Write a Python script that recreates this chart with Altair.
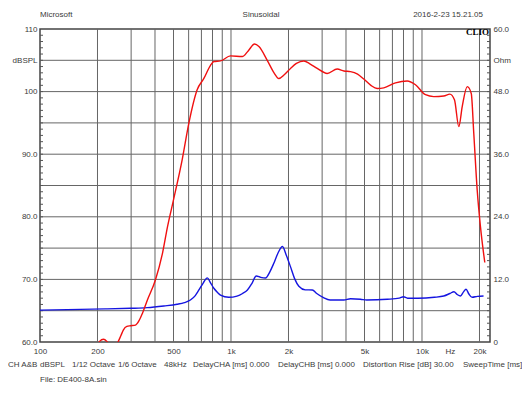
import altair as alt
import pandas as pd

# ---------------- data ----------------
red_freq = [195, 205, 215, 224, 232, 245, 256, 265, 273, 285, 298, 316, 330, 344, 365,
            402, 438, 465, 500, 555, 601, 665, 721, 781, 813, 881, 994, 1145, 1230,
            1328, 1400, 1548, 1680, 1780, 1900, 2049, 2200, 2405, 2600, 2828, 3190,
            3597, 3900, 4224, 4600, 4958, 5400, 5826, 6310, 7265, 8365, 9245, 10430,
            11530, 13000, 13990, 14790, 15590, 16240, 17250, 18110, 18670, 19450,
            20240, 21320]
red_db = [58.5, 60.1, 60.45, 60.1, 59.5, 59.3, 60.0, 61.0, 61.9, 62.5, 62.6, 62.7, 63.4,
          64.6, 66.7, 69.9, 74.2, 78.4, 82.7, 89.1, 94.9, 100.3, 102.1, 104.2, 104.8,
          104.9, 105.7, 105.6, 106.5, 107.6, 107.2, 105.0, 103.0, 102.1, 102.7, 103.7,
          104.5, 104.9, 104.4, 103.7, 102.9, 103.6, 103.3, 103.2, 102.8, 102.0, 101.0,
          100.5, 100.6, 101.4, 101.7, 101.1, 99.5, 99.2, 99.3, 99.6, 98.7, 94.4, 97.6,
          100.8, 99.7, 93.3, 84.3, 78.4, 72.7]

blue_freq = [100, 163, 220, 298, 364, 445, 522, 570, 613, 650, 679, 715, 751, 780, 813,
             850, 881, 973, 1075, 1150, 1219, 1290, 1355, 1430, 1516, 1600, 1676, 1770,
             1859, 1950, 2050, 2150, 2266, 2450, 2666, 2812, 3050, 3300, 3897, 4224,
             4764, 5140, 6580, 7600, 8000, 8400, 9500, 11600, 13000, 14000, 14700,
             15300, 15900, 16500, 17000, 17600, 18300, 19500, 21000]
blue_ohm = [6.1, 6.25, 6.35, 6.46, 6.58, 6.9, 7.23, 7.55, 8.05, 8.9, 9.97, 11.3, 12.3,
            11.4, 10.3, 9.5, 9.0, 8.57, 8.8, 9.3, 9.97, 11.3, 12.65, 12.4, 12.27, 13.5,
            15.1, 17.2, 18.3, 16.6, 14.4, 12.2, 10.7, 10.0, 9.97, 9.3, 8.5, 8.05, 8.05,
            8.3, 8.2, 8.05, 8.19, 8.4, 8.68, 8.4, 8.4, 8.57, 8.82, 9.3, 9.64, 9.1, 8.82,
            9.6, 10.1, 9.2, 8.57, 8.75, 8.82]

vgrid_freqs = [200, 300, 400, 500, 600, 700, 800, 900, 1000, 2000, 3000, 4000, 5000,
               6000, 7000, 8000, 9000, 10000, 20000]
hgrid_db = [65, 70, 75, 80, 85, 90, 95, 100, 105]
minor_db = list(range(61, 110))

x_tick_values = [100, 200, 500, 1000, 2000, 5000, 10000, 14000, 20000]
x_tick_labels = ["100", "200", "500", "1k", "2k", "5k", "10k", "Hz", "20k"]
left_tick_values = [60, 70, 80, 90, 100, 105, 110]
left_tick_labels = ["60.0", "70.0", "80.0", "90.0", "100", "dBSPL", "110"]
right_tick_values = [0, 12, 24, 36, 48, 54, 60]
right_tick_labels = ["0", "12.0", "24.0", "36.0", "48.0", "Ohm", "60.0"]

header_texts = ["Microsoft", "Sinusoidal", "2016-2-23 15.21.05"]
footer_texts = ["CH A&B", "dBSPL", "1/12 Octave", "1/6 Octave", "48kHz",
                "DelayCHA [ms] 0.000", "DelayCHB [ms] 0.000",
                "Distortion Rise [dB] 30.00", "SweepTime [ms]"]
file_text = "File: DE400-8A.sin"
logo_text = "CLIO"

# ---------------- layout ----------------
W, H = 450, 313
FONT = "Liberation Sans"
TXT = "#3a3a3a"
GRID = "#666666"

header_pos = [(0, -14, "left"), (221, -14, "center"), (443, -14, "right")]
footer_x = [-32, 0, 32, 78, 124, 153, 238, 323, 423]
footer_y = 336
file_pos = (0, 351)


def label_expr(values, labels):
    expr = "''"
    for v, l in zip(values, labels):
        expr = f"datum.value == {v} ? '{l}' : ({expr})"
    return expr


xs = alt.Scale(type="log", domain=[100, 22700], nice=False)
ys = alt.Scale(domain=[60, 110], nice=False, zero=False)
ys2 = alt.Scale(domain=[0, 60], nice=False, zero=False)

xaxis = alt.Axis(values=x_tick_values, labelExpr=label_expr(x_tick_values, x_tick_labels),
                 title=None, grid=False, ticks=False, domain=False, labelFlush=False,
                 labelPadding=5, labelFont=FONT, labelFontSize=8, labelColor=TXT)
yaxis = alt.Axis(values=left_tick_values, labelExpr=label_expr(left_tick_values, left_tick_labels),
                 title=None, grid=False, ticks=False, domain=False, labelPadding=3,
                 labelFont=FONT, labelFontSize=8, labelColor=TXT, orient="left")
yaxis2 = alt.Axis(values=right_tick_values, labelExpr=label_expr(right_tick_values, right_tick_labels),
                  title=None, grid=False, ticks=False, domain=False, labelPadding=3,
                  labelFont=FONT, labelFontSize=8, labelColor=TXT, orient="right")

red_df = pd.DataFrame({"f": red_freq, "v": red_db})
blue_df = pd.DataFrame({"f": blue_freq, "v": blue_ohm})

vgrid = alt.Chart(pd.DataFrame({"f": vgrid_freqs})).mark_rule(
    color=GRID, strokeWidth=1).encode(x=alt.X("f:Q", scale=xs, axis=xaxis))
hgrid = alt.Chart(pd.DataFrame({"v": hgrid_db})).mark_rule(
    color=GRID, strokeWidth=1).encode(y=alt.Y("v:Q", scale=ys, axis=yaxis))
minor_l = alt.Chart(pd.DataFrame({"v": minor_db})).mark_rule(
    color="#555", strokeWidth=1).encode(
    y=alt.Y("v:Q", scale=ys, axis=yaxis), x=alt.value(0), x2=alt.value(3))
minor_r = alt.Chart(pd.DataFrame({"v": minor_db})).mark_rule(
    color="#555", strokeWidth=1).encode(
    y=alt.Y("v:Q", scale=ys, axis=yaxis), x=alt.value(W - 3), x2=alt.value(W))

grid_layer = alt.layer(vgrid, hgrid, minor_l, minor_r)

blue = alt.Chart(blue_df).mark_line(color="#1515e0", strokeWidth=1.4, interpolate="monotone",
                                    clip=True).encode(
    x=alt.X("f:Q", scale=xs, axis=xaxis),
    y=alt.Y("v:Q", scale=ys2, axis=yaxis2))

red = alt.Chart(red_df).mark_line(color="#f01010", strokeWidth=1.4, interpolate="monotone",
                                  clip=True).encode(
    x=alt.X("f:Q", scale=xs, axis=xaxis),
    y=alt.Y("v:Q", scale=ys, axis=None))

texts = []
one = pd.DataFrame({"k": [0]})
for t, (px, py, al) in zip(header_texts, header_pos):
    texts.append(alt.Chart(one).mark_text(align=al, baseline="middle", font=FONT, fontSize=8,
                                          color=TXT).encode(
        x=alt.value(px), y=alt.value(py), text=alt.value(t)))
for t, px in zip(footer_texts, footer_x):
    texts.append(alt.Chart(one).mark_text(align="left", baseline="middle", font=FONT, fontSize=8,
                                          color=TXT).encode(
        x=alt.value(px), y=alt.value(footer_y), text=alt.value(t)))
texts.append(alt.Chart(one).mark_text(align="left", baseline="middle", font=FONT, fontSize=8,
                                      color=TXT).encode(
    x=alt.value(file_pos[0]), y=alt.value(file_pos[1]), text=alt.value(file_text)))
texts.append(alt.Chart(one).mark_text(align="right", baseline="middle", font="Liberation Serif",
                                      fontSize=9, fontWeight="bold", color="#000").encode(
    x=alt.value(W - 1), y=alt.value(3), text=alt.value(logo_text)))

chart = alt.layer(grid_layer, blue, red, *texts).resolve_scale(y="independent").properties(
    width=W, height=H,
    autosize=alt.AutoSizeParams(type="none"),
    padding={"left": 32, "top": 21, "right": 32, "bottom": 42},
    background="white",
).configure_view(stroke="#444", strokeWidth=1.5)

chart.save("out.html", embed_options={"renderer": "svg", "actions": False})
